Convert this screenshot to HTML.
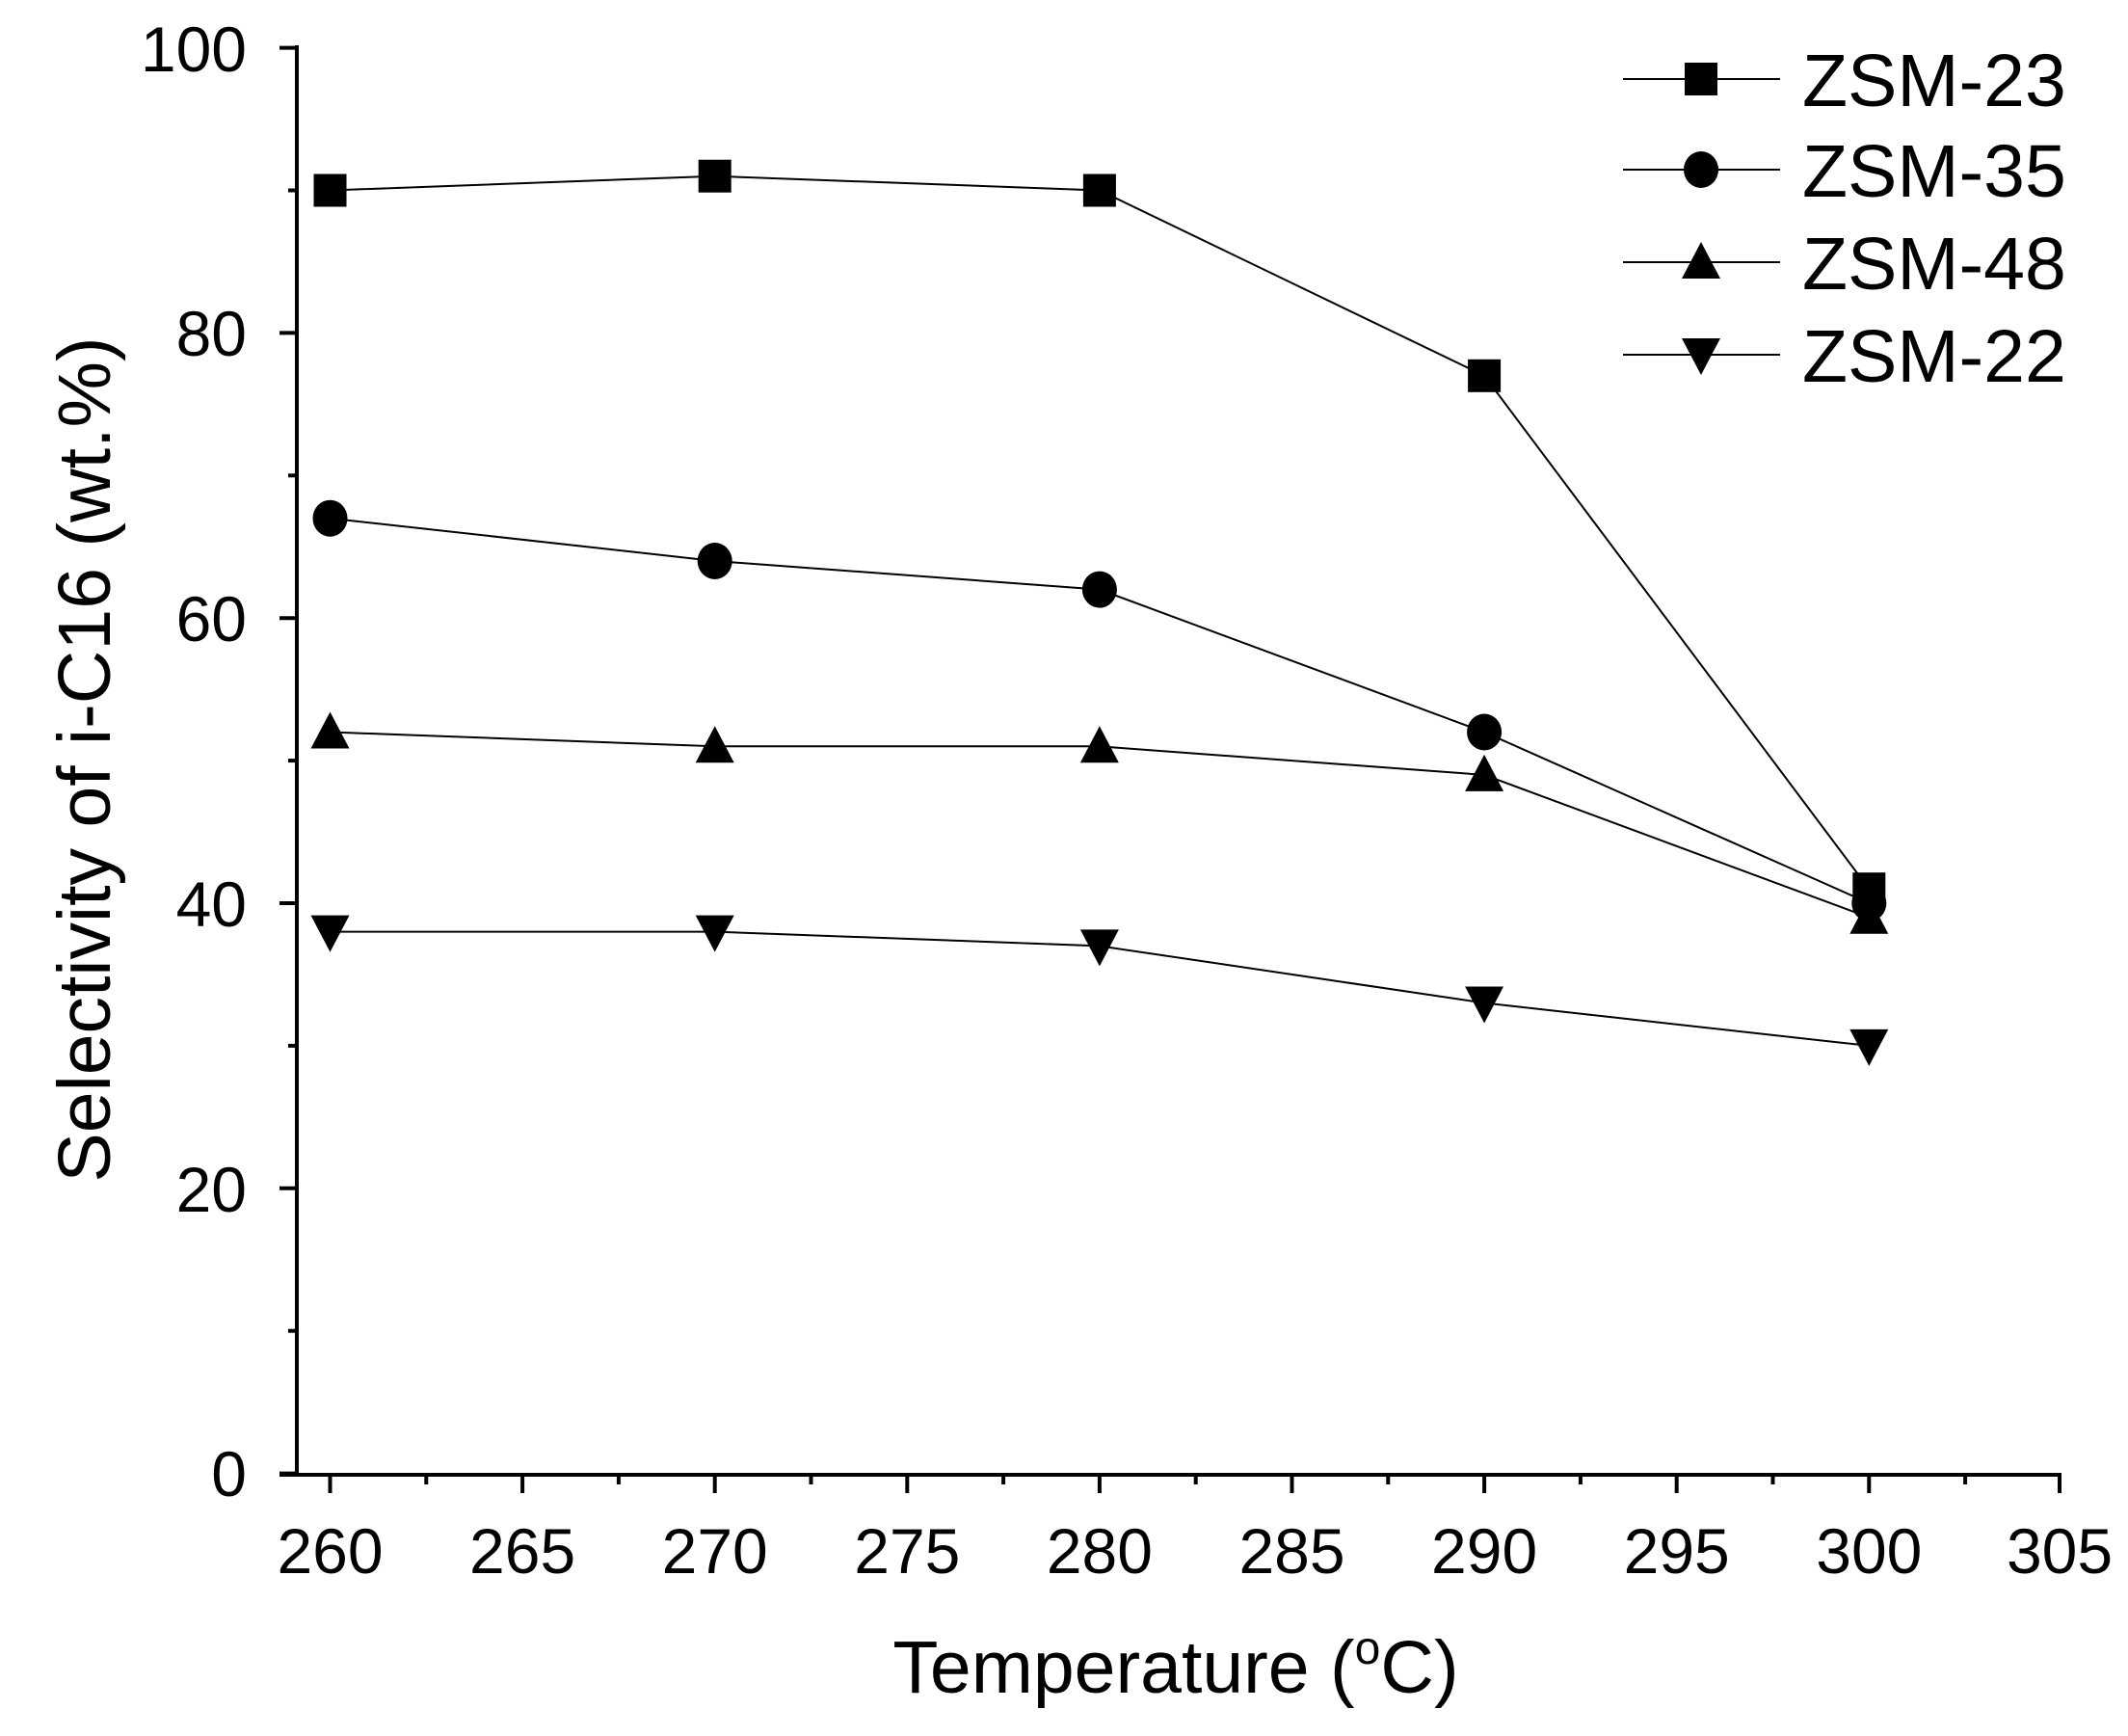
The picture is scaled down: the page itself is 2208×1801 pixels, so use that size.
<!DOCTYPE html><html><head><style>body{margin:0;background:#fff}svg text{font-family:"Liberation Sans",sans-serif;fill:#000}</style></head><body>
<svg width="2208" height="1796" viewBox="0 0 2208 1796" xmlns="http://www.w3.org/2000/svg">
<g stroke="#000" stroke-width="4" fill="none">
<line x1="308" y1="47" x2="308" y2="1530"/>
<line x1="290" y1="1530" x2="2139" y2="1530"/>
<line x1="290" y1="1528.6" x2="308" y2="1528.6"/>
<line x1="299" y1="1380.7" x2="308" y2="1380.7"/>
<line x1="290" y1="1232.8" x2="308" y2="1232.8"/>
<line x1="299" y1="1084.9" x2="308" y2="1084.9"/>
<line x1="290" y1="937" x2="308" y2="937"/>
<line x1="299" y1="789.1" x2="308" y2="789.1"/>
<line x1="290" y1="641.2" x2="308" y2="641.2"/>
<line x1="299" y1="493.3" x2="308" y2="493.3"/>
<line x1="290" y1="345.4" x2="308" y2="345.4"/>
<line x1="299" y1="197.5" x2="308" y2="197.5"/>
<line x1="290" y1="49.6" x2="308" y2="49.6"/>
<line x1="342.5" y1="1530" x2="342.5" y2="1549"/>
<line x1="442.3" y1="1530" x2="442.3" y2="1540"/>
<line x1="542.1" y1="1530" x2="542.1" y2="1549"/>
<line x1="641.9" y1="1530" x2="641.9" y2="1540"/>
<line x1="741.7" y1="1530" x2="741.7" y2="1549"/>
<line x1="841.5" y1="1530" x2="841.5" y2="1540"/>
<line x1="941.3" y1="1530" x2="941.3" y2="1549"/>
<line x1="1041.1" y1="1530" x2="1041.1" y2="1540"/>
<line x1="1140.9" y1="1530" x2="1140.9" y2="1549"/>
<line x1="1240.7" y1="1530" x2="1240.7" y2="1540"/>
<line x1="1340.5" y1="1530" x2="1340.5" y2="1549"/>
<line x1="1440.3" y1="1530" x2="1440.3" y2="1540"/>
<line x1="1540.1" y1="1530" x2="1540.1" y2="1549"/>
<line x1="1639.9" y1="1530" x2="1639.9" y2="1540"/>
<line x1="1739.7" y1="1530" x2="1739.7" y2="1549"/>
<line x1="1839.5" y1="1530" x2="1839.5" y2="1540"/>
<line x1="1939.3" y1="1530" x2="1939.3" y2="1549"/>
<line x1="2039.1" y1="1530" x2="2039.1" y2="1540"/>
<line x1="2137" y1="1530" x2="2137" y2="1549"/>
</g>
<g font-size="66" text-anchor="end">
<text x="256" y="1552">0</text>
<text x="256" y="1257">20</text>
<text x="256" y="961">40</text>
<text x="256" y="665">60</text>
<text x="256" y="369">80</text>
<text x="256" y="74">100</text>
</g>
<g font-size="66" text-anchor="middle">
<text x="342.5" y="1632">260</text>
<text x="542.1" y="1632">265</text>
<text x="741.7" y="1632">270</text>
<text x="941.3" y="1632">275</text>
<text x="1140.9" y="1632">280</text>
<text x="1340.5" y="1632">285</text>
<text x="1540.1" y="1632">290</text>
<text x="1739.7" y="1632">295</text>
<text x="1939.3" y="1632">300</text>
<text x="2137" y="1632">305</text>
</g>
<text x="1220" y="1756" font-size="77" text-anchor="middle">Temperature (<tspan font-size="48" dy="-30">o</tspan><tspan dy="30">C)</tspan></text>
<text transform="translate(114,788) rotate(-90)" font-size="77" text-anchor="middle">Selectivity of i-C16 (wt.%)</text>
<g fill="none" stroke="#000" stroke-width="2">
<polyline points="342.5,197.5 741.7,182.7 1140.9,197.5 1540.1,389.8 1939.3,922.2"/>
<polyline points="342.5,537.7 741.7,582 1140.9,611.6 1540.1,759.5 1939.3,937"/>
<polyline points="342.5,759.5 741.7,774.3 1140.9,774.3 1540.1,803.9 1939.3,951.8"/>
<polyline points="342.5,966.6 741.7,966.6 1140.9,981.4 1540.1,1040.5 1939.3,1084.9"/>
<line x1="1684" y1="82" x2="1847" y2="82"/>
<line x1="1684" y1="176" x2="1847" y2="176"/>
<line x1="1684" y1="272" x2="1847" y2="272"/>
<line x1="1684" y1="368" x2="1847" y2="368"/>
</g>
<g fill="#000">
<rect x="325.5" y="180.5" width="34" height="34"/>
<rect x="724.7" y="165.7" width="34" height="34"/>
<rect x="1123.9" y="180.5" width="34" height="34"/>
<rect x="1523.1" y="372.8" width="34" height="34"/>
<rect x="1922.3" y="905.2" width="34" height="34"/>
<ellipse cx="342.5" cy="537.7" rx="18" ry="19"/>
<ellipse cx="741.7" cy="582" rx="18" ry="19"/>
<ellipse cx="1140.9" cy="611.6" rx="18" ry="19"/>
<ellipse cx="1540.1" cy="759.5" rx="18" ry="19"/>
<ellipse cx="1939.3" cy="937" rx="18" ry="19"/>
<polygon points="342.5,738.5 362.5,776.5 322.5,776.5"/>
<polygon points="741.7,753.3 761.7,791.3 721.7,791.3"/>
<polygon points="1140.9,753.3 1160.9,791.3 1120.9,791.3"/>
<polygon points="1540.1,782.9 1560.1,820.9 1520.1,820.9"/>
<polygon points="1939.3,930.8 1959.3,968.8 1919.3,968.8"/>
<polygon points="342.5,987.6 362.5,949.6 322.5,949.6"/>
<polygon points="741.7,987.6 761.7,949.6 721.7,949.6"/>
<polygon points="1140.9,1002.4 1160.9,964.4 1120.9,964.4"/>
<polygon points="1540.1,1061.5 1560.1,1023.5 1520.1,1023.5"/>
<polygon points="1939.3,1105.9 1959.3,1067.9 1919.3,1067.9"/>
<rect x="1748" y="65" width="34" height="34"/>
<ellipse cx="1765" cy="176" rx="18" ry="19"/>
<polygon points="1765,251 1785,289 1745,289"/>
<polygon points="1765,389 1785,351 1745,351"/>
</g>
<g font-size="77">
<text x="1870" y="110">ZSM-23</text>
<text x="1870" y="204">ZSM-35</text>
<text x="1870" y="300">ZSM-48</text>
<text x="1870" y="396">ZSM-22</text>
</g>
</svg></body></html>
